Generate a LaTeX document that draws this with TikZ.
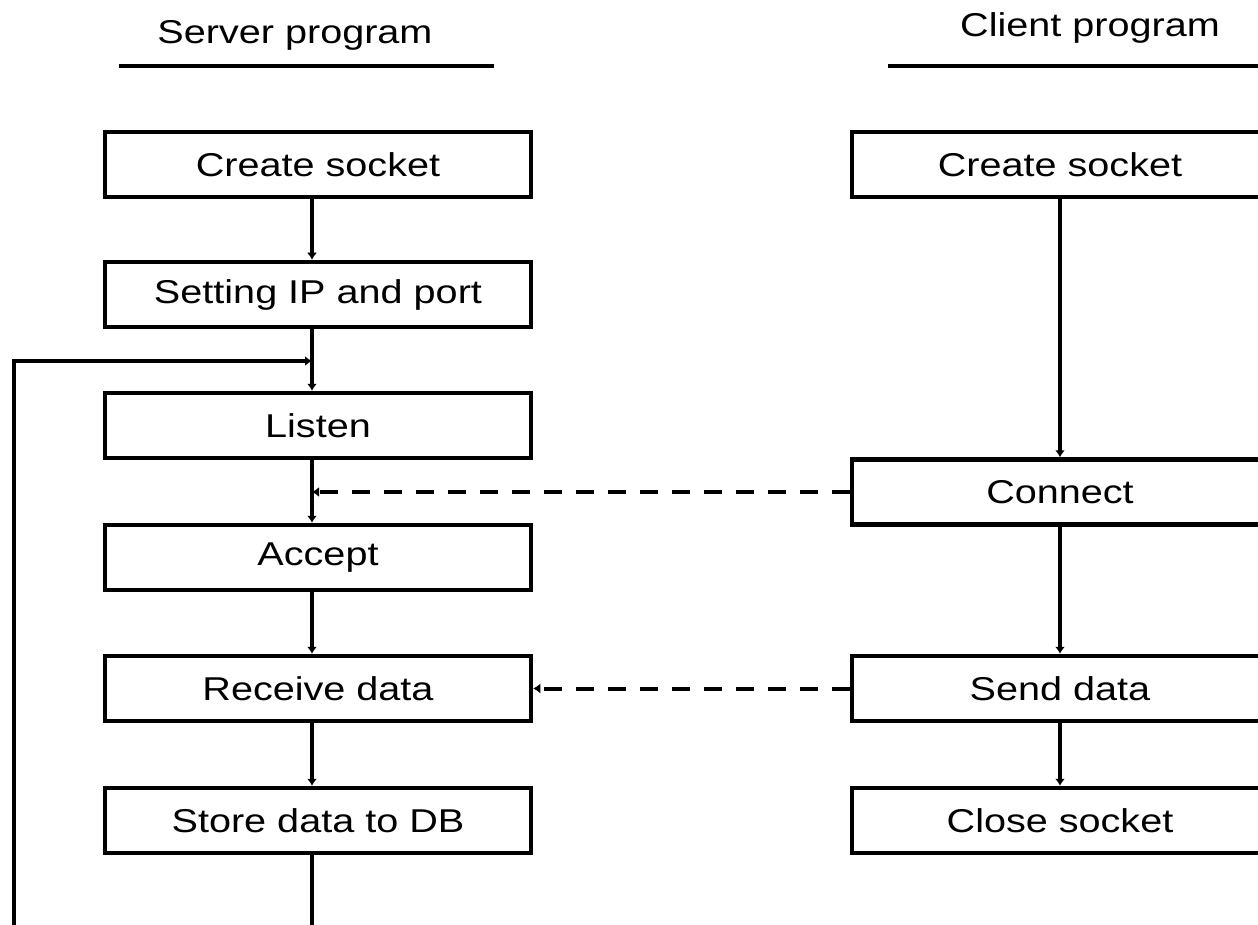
\documentclass[tikz,border=0pt]{standalone}
\usepackage{fontspec}
\setmainfont{Liberation Sans}
\usetikzlibrary{arrows.meta}
\newcommand{\lblfont}{\fontsize{33}{36}\selectfont}
\newcommand{\wtxt}[1]{\scalebox{1.2}[1]{#1}}
\begin{document}
\begin{tikzpicture}[x=1pt,y=-1pt,
  lbox/.style={draw,line width=4.5pt,minimum width=426pt,minimum height=65pt,inner sep=0pt,font=\lblfont},
  rbox/.style={draw,line width=4.5pt,minimum width=416pt,minimum height=65pt,inner sep=0pt,font=\lblfont},
  hdr/.style={inner sep=0pt,font=\lblfont},
  rule/.style={line width=3.5pt},
  arr/.style={line width=4.5pt,-{Latex[length=7pt,width=10pt]}},
  plain/.style={line width=4.5pt},
  dsh/.style={line width=4pt,dash pattern=on 18pt off 14pt,-{Latex[length=7pt,width=10pt]}}]
\useasboundingbox (0,0) rectangle (1258,925);
\clip (0,0) rectangle (1258,925);
% headers
\node[hdr] (sh) at (295,35) {\wtxt{Server program}};
\node[hdr] (ch) at (1090,28) {\wtxt{Client program}};
\coordinate (sl1) at (119,66); \coordinate (sl2) at (494,66);
\coordinate (cl1) at (888,66); \coordinate (cl2) at (1262,66);
\draw[rule] (sl1) -- (sl2);
\draw[rule] (cl1) -- (cl2);
% server boxes
\node[lbox] (lcs) at (318,164.5) {\wtxt{Create socket}};
\node[lbox] (lip) at (318,294.5) {\wtxt{Setting IP and port}};
\node[lbox] (lls) at (318,425.5) {\wtxt{Listen}};
\node[lbox] (lac) at (318,557.5) {\wtxt{Accept}};
\node[lbox] (lrv) at (318,688.5) {\wtxt{Receive data}};
\node[lbox] (lst) at (318,820.5) {\wtxt{Store data to DB}};
% client boxes
\node[rbox] (rcs) at (1060,164.5) {\wtxt{Create socket}};
\node[rbox] (rcn) at (1060,492) {\wtxt{Connect}};
\node[rbox] (rsd) at (1060,688.5) {\wtxt{Send data}};
\node[rbox] (rcl) at (1060,820.5) {\wtxt{Close socket}};
% server flow
\coordinate (ax) at (312,0);
\draw[arr] (lcs.south -| ax) -- (lip.north -| ax);
\draw[arr] (lip.south -| ax) -- (lls.north -| ax);
\draw[arr] (lls.south -| ax) -- (lac.north -| ax);
\draw[arr] (lac.south -| ax) -- (lrv.north -| ax);
\draw[arr] (lrv.south -| ax) -- (lst.north -| ax);
\coordinate (bot) at (312,926);
\draw[plain] (lst.south -| ax) -- (bot);
% loop back
\coordinate (lb) at (14,926);
\coordinate (lt) at (14,361);
\draw[arr] (lb) -- (lt) -- (lt -| ax);
% client flow
\draw[arr] (rcs) -- (rcn);
\draw[arr] (rcn) -- (rsd);
\draw[arr] (rsd) -- (rcl);
% messages
\draw[dsh] (rcn.west) -- (rcn.west -| ax);
\draw[dsh] (rsd.west) -- (lrv.east);
\end{tikzpicture}
\end{document}
